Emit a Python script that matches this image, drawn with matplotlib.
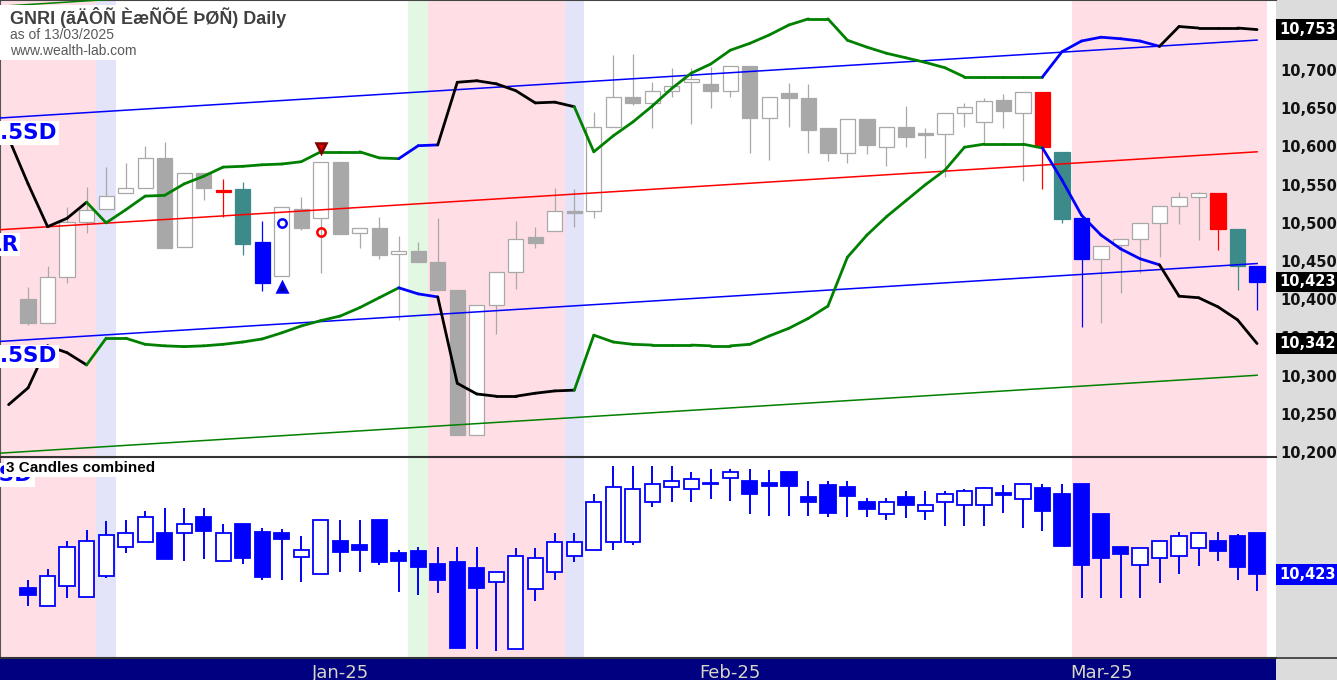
import numpy as np
import matplotlib.pyplot as plt
from matplotlib.collections import LineCollection
from matplotlib.lines import Line2D
from matplotlib.patches import Rectangle

# daily bars (upper panel), 64 sessions up to 13/03/2025
opens = [10400, 10369, 10429, 10501, 10518, 10539, 10546, 10585, 10468, 10565,
         10543, 10544, 10475, 10430, 10518, 10506, 10580, 10487, 10493, 10459,
         10463, 10449, 10412, 10222, 10392, 10436, 10481, 10489, 10515, 10515,
         10625, 10665, 10657, 10673, 10684, 10682, 10673, 10705, 10637, 10670,
         10663, 10624, 10591, 10636, 10599, 10625, 10617, 10616, 10644, 10632,
         10661, 10644, 10671, 10593, 10506, 10453, 10471, 10479, 10500, 10522,
         10534, 10539, 10492, 10444]
highs = [10416, 10444, 10521, 10547, 10573, 10578, 10601, 10606, 10565, 10565,
         10557, 10553, 10502, 10521, 10534, 10580, 10580, 10493, 10508, 10483,
         10475, 10506, 10412, 10392, 10436, 10502, 10495, 10546, 10544, 10645,
         10720, 10721, 10684, 10703, 10703, 10704, 10705, 10705, 10665, 10683,
         10682, 10624, 10636, 10636, 10625, 10653, 10624, 10644, 10657, 10663,
         10669, 10671, 10671, 10593, 10506, 10470, 10479, 10500, 10522, 10540,
         10540, 10539, 10492, 10444]
lows = [10366, 10369, 10421, 10487, 10518, 10539, 10546, 10467, 10468, 10530,
        10508, 10458, 10411, 10430, 10491, 10434, 10485, 10467, 10453, 10373,
        10449, 10412, 10222, 10222, 10354, 10413, 10467, 10489, 10495, 10506,
        10625, 10654, 10624, 10665, 10629, 10650, 10665, 10591, 10582, 10625,
        10591, 10581, 10578, 10590, 10574, 10599, 10585, 10560, 10625, 10605,
        10624, 10555, 10544, 10500, 10364, 10369, 10408, 10434, 10455, 10498,
        10478, 10464, 10412, 10386]
closes = [10369, 10429, 10501, 10517, 10535, 10546, 10585, 10467, 10565, 10546,
          10541, 10472, 10421, 10521, 10493, 10580, 10485, 10493, 10458, 10463,
          10449, 10412, 10222, 10392, 10436, 10479, 10474, 10515, 10513, 10625,
          10665, 10657, 10673, 10679, 10688, 10673, 10705, 10637, 10665, 10663,
          10622, 10591, 10636, 10602, 10625, 10612, 10615, 10644, 10652, 10660,
          10646, 10671, 10599, 10505, 10453, 10470, 10479, 10500, 10522, 10534,
          10539, 10492, 10444, 10423]
# n = plain bar, r / t / b = highlighted pattern bars
bar_kind = "n" * 10 + "rtb" + "n" * 39 + "rtb" + "n" * 6 + "rtb"

# 3 candles combined (lower panel)
comb_open = [10387, 10337, 10392, 10362, 10419, 10499, 10511, 10536, 10538, 10581,
             10460, 10560, 10540, 10538, 10470, 10424, 10515, 10504, 10572, 10483,
             10487, 10453, 10458, 10441, 10403, 10218, 10383, 10429, 10474, 10489,
             10511, 10511, 10622, 10664, 10656, 10670, 10688, 10679, 10673, 10705,
             10636, 10668, 10664, 10622, 10589, 10636, 10597, 10621, 10613, 10613,
             10647, 10630, 10661, 10644, 10671, 10589, 10499, 10449, 10469, 10474,
             10495, 10515, 10528, 10537]
comb_high = [10408, 10437, 10515, 10545, 10569, 10572, 10597, 10606, 10606, 10606,
             10560, 10560, 10551, 10548, 10528, 10572, 10572, 10572, 10572, 10490,
             10499, 10499, 10499, 10499, 10429, 10495, 10495, 10538, 10538, 10643,
             10721, 10721, 10721, 10721, 10705, 10712, 10712, 10712, 10709, 10705,
             10679, 10679, 10679, 10633, 10633, 10652, 10652, 10652, 10656, 10663,
             10668, 10671, 10671, 10671, 10671, 10589, 10499, 10495, 10515, 10540,
             10540, 10540, 10535, 10537]
comb_low = [10337, 10337, 10358, 10362, 10414, 10481, 10511, 10465, 10460, 10465,
            10460, 10453, 10408, 10408, 10403, 10424, 10430, 10430, 10449, 10376,
            10368, 10371, 10222, 10218, 10213, 10218, 10350, 10408, 10456, 10489,
            10490, 10504, 10609, 10622, 10622, 10630, 10625, 10588, 10583, 10583,
            10583, 10580, 10580, 10580, 10572, 10577, 10572, 10556, 10556, 10556,
            10592, 10551, 10542, 10502, 10358, 10358, 10358, 10359, 10399, 10423,
            10447, 10460, 10408, 10378]
comb_close = [10367, 10419, 10499, 10515, 10531, 10538, 10581, 10465, 10560, 10542,
              10536, 10469, 10415, 10519, 10490, 10572, 10485, 10490, 10456, 10460,
              10444, 10408, 10222, 10387, 10429, 10474, 10469, 10511, 10511, 10621,
              10664, 10656, 10671, 10679, 10685, 10673, 10705, 10643, 10666, 10666,
              10622, 10591, 10639, 10602, 10622, 10613, 10613, 10643, 10652, 10661,
              10641, 10671, 10597, 10502, 10449, 10469, 10478, 10495, 10515, 10528,
              10536, 10488, 10444, 10423]

# stop bands, one point per bar from index -1
stop_x = list(range(-1, 64))
stop_upper = [10611, 10551, 10495, 10506, 10527, 10500, 10517, 10535, 10536, 10551,
              10561, 10573, 10574, 10576, 10577, 10580, 10593, 10593, 10593, 10585,
              10584, 10601, 10602, 10684, 10686, 10682, 10673, 10657, 10658, 10652,
              10593, 10614, 10632, 10653, 10676, 10696, 10708, 10726, 10735, 10746,
              10759, 10767, 10767, 10739, 10730, 10722, 10716, 10710, 10703, 10691,
              10691, 10691, 10691, 10691, 10724, 10738, 10743, 10741, 10738, 10731,
              10757, 10755, 10755, 10755, 10753]
stop_lower = [10262, 10284, 10339, 10330, 10314, 10349, 10349, 10341, 10339, 10338,
              10339, 10341, 10344, 10348, 10356, 10365, 10372, 10378, 10389, 10402,
              10415, 10407, 10403, 10290, 10276, 10273, 10273, 10277, 10280, 10281,
              10353, 10344, 10341, 10340, 10340, 10340, 10339, 10339, 10341, 10352,
              10362, 10375, 10391, 10455, 10484, 10508, 10529, 10550, 10569, 10599,
              10603, 10603, 10603, 10598, 10556, 10510, 10484, 10466, 10453, 10445,
              10404, 10402, 10390, 10373, 10342]
# colour of each segment: k black, g green, b blue
stop_state = "kkkk" + "g" * 16 + "bb" + "k" * 7 + "g" * 24 + "b" * 6 + "k" * 5
# background per bar from index -1: p pink, l lavender, g green
shade = "ppppp" + "l" + "." * 15 + "g" + "ppppppp" + "l" + "." * 25 + "p" * 10

# linear regression channel
reg_x = [-1.44, 63]
reg_mid = [10491, 10593]
reg_sd = 97.5

# signals
sig_x = [13, 13, 15, 15]
sig_y = [10416, 10500, 10598, 10488]
sig_marker = ["^", "o", "v", "o"]
sig_face = ["#000080", "none", "#dd0000", "none"]
sig_edge = ["#0000ff", "#0000ff", "#800000", "#ff0000"]

month_pos = [16, 36, 55]
month_lab = ["Jan-25", "Feb-25", "Mar-25"]

W, H = 1337.0, 680.0
fig = plt.figure(figsize=(13.37, 6.8), dpi=100, facecolor="#dcdcdc")


def rect(x0, y0, x1, y1):
    return [x0 / W, 1 - y1 / H, (x1 - x0) / W, (y1 - y0) / H]


ax = fig.add_axes(rect(0, 0, 1276, 457))
ax2 = fig.add_axes(rect(0, 457, 1276, 658))
axd = fig.add_axes(rect(0, 658, 1276, 680))
ax.set_zorder(2)
ax2.set_zorder(1)
for a in (ax, ax2, axd):
    a.set_xlim(-1.44, 63.97)
    a.set_xticks([])
ax.set_ylim(10193.5, 10791.7)
ax2.set_ylim(10194, 10745)

# background shading, merged runs
shade_col = {"p": "#ffdfe5", "l": "#e3e3fa", "g": "#e3f8e3"}
start = 0
for i in range(1, len(shade) + 1):
    if i == len(shade) or shade[i] != shade[start]:
        if shade[start] in shade_col:
            for a in (ax, ax2):
                a.axvspan(stop_x[start] - 0.5, stop_x[i - 1] + 0.5,
                          color=shade_col[shade[start]], lw=0, zorder=0)
        start = i

# upper candles
o, h, l, c = map(np.array, (opens, highs, lows, closes))
xs = np.arange(len(o))
kind_col = {"r": "#ff0000", "t": "#3d8a8a", "b": "#0000ff"}
gray = "#a8a8a8"
face, edge = [], []
for i, k in enumerate(bar_kind):
    if k == "n":
        face.append("white" if c[i] >= o[i] else gray)
        edge.append(gray)
    else:
        face.append(kind_col[k])
        edge.append(kind_col[k])
ax.vlines(xs, l, h, colors=edge, linewidth=0.9, zorder=3)
ax.bar(xs, np.maximum(np.abs(c - o), 1), bottom=np.minimum(o, c), width=0.78,
       color=face, edgecolor=edge, linewidth=0.9, zorder=4)

# regression channel
mid = np.array(reg_mid, dtype=float)
ax.plot(reg_x, mid, color="#ff0000", lw=1.1, zorder=5)
ax.plot(reg_x, mid + 1.5 * reg_sd, color="#0000ff", lw=1.1, zorder=5)
ax.plot(reg_x, mid - 1.5 * reg_sd, color="#0000ff", lw=1.1, zorder=5)
ax.plot(reg_x, mid + 3 * reg_sd, color="#008000", lw=1.1, zorder=5)
ax.plot(reg_x, mid - 3 * reg_sd, color="#008000", lw=1.1, zorder=5)

# stop bands
state_col = {"k": "black", "g": "#008000", "b": "#0000ff"}
for band in (stop_upper, stop_lower):
    pts = np.column_stack([stop_x, band])
    segs = [pts[i:i + 2] for i in range(len(pts) - 1)]
    ax.add_collection(LineCollection(segs, colors=[state_col[s] for s in stop_state],
                                     linewidths=2.0, capstyle="round", zorder=6))

for sx, sy, m, fc, ec in zip(sig_x, sig_y, sig_marker, sig_face, sig_edge):
    ax.plot(sx, sy, marker=m, ms=7 if m != "o" else 6, mfc=fc, mec=ec, mew=1.8, zorder=7)

# channel labels
lab_style = dict(color="#0000ff", fontsize=15.5, fontweight="bold", ha="right", va="center",
                 textcoords="offset pixels", annotation_clip=False, zorder=8,
                 bbox=dict(boxstyle="square,pad=0.08", fc="white", ec="none"))
ax.annotate("+1.5SD", xy=(reg_x[0], mid[0] + 1.5 * reg_sd), xytext=(57, -15), **lab_style)
ax.annotate("LR", xy=(reg_x[0], mid[0]), xytext=(18, -15), **lab_style)
ax.annotate("-1.5SD", xy=(reg_x[0], mid[0] - 1.5 * reg_sd), xytext=(57, -15), **lab_style)
ax.annotate("-3SD", xy=(reg_x[0], mid[0] - 3 * reg_sd), xytext=(33, -22), **lab_style)

# price axis
ticks = np.arange(10200, 10701, 50)
ax.yaxis.tick_right()
ax.set_yticks(ticks)
ax.set_yticklabels([f"{v:,}" for v in ticks], fontweight="bold")
ax.tick_params(axis="y", length=0, pad=3, labelsize=10.5, labelcolor="#111111")
for v in (stop_upper[-1], closes[-1], stop_lower[-1]):
    ax.annotate(f"{v:,}", xy=(1, v), xycoords=("axes fraction", "data"), xytext=(3, 0),
                textcoords="offset pixels", ha="left", va="center", color="white",
                fontsize=10.5, fontweight="bold", annotation_clip=False, zorder=9,
                bbox=dict(boxstyle="square,pad=0.18", fc="black", ec="none"))

# lower panel candles
co, ch, cl, cc = map(np.array, (comb_open, comb_high, comb_low, comb_close))
ax2.vlines(xs, cl, ch, colors="#0000ff", linewidth=1.4, zorder=3)
ax2.bar(xs, np.maximum(np.abs(cc - co), 2), bottom=np.minimum(co, cc), width=0.78,
        color=["white" if cc[i] >= co[i] else "#0000ff" for i in xs],
        edgecolor="#0000ff", linewidth=1.3, zorder=4)
ax2.set_yticks([])
ax2.annotate(f"{comb_close[-1]:,}", xy=(1, comb_close[-1]), xycoords=("axes fraction", "data"),
             xytext=(3, 0), textcoords="offset pixels", ha="left", va="center", color="white",
             fontsize=10.5, fontweight="bold", annotation_clip=False, zorder=9,
             bbox=dict(boxstyle="square,pad=0.18", fc="#0000ff", ec="none"))

# date bar
axd.set_facecolor("#000080")
axd.set_yticks([])
for p, t in zip(month_pos, month_lab):
    axd.text(p, 1 - 6 / 22, t, transform=axd.get_xaxis_transform(), ha="center", va="top",
             color="#d8d6c8", fontsize=13)

for s in ("right",):
    ax.spines[s].set_visible(False)
    ax2.spines[s].set_visible(False)
ax.spines["top"].set_color("#444444")
ax.spines["top"].set_linewidth(1.5)
ax.spines["bottom"].set_color("#333333")
ax.spines["bottom"].set_linewidth(1.5)
ax.spines["left"].set_color("#555555")
ax2.spines["top"].set_visible(False)
ax2.spines["bottom"].set_color("#333333")
ax2.spines["bottom"].set_linewidth(1.5)
ax2.spines["left"].set_color("#555555")
for s in axd.spines.values():
    s.set_visible(False)
fig.add_artist(Line2D([0, 1], [1 - 658 / H] * 2, color="#333333", lw=1.2))

# header
fig.add_artist(Rectangle((0, 1 - 60 / H), 290 / W, 55 / H, transform=fig.transFigure,
                         fc="white", ec="none", zorder=10))
fig.text(10 / W, 1 - 18 / H, "GNRI (ãÄÔÑ ÈæÑÕÉ ÞØÑ) Daily", family="Liberation Sans",
         fontsize=13, fontweight="bold", color="#404040", va="center", zorder=11)
fig.text(10 / W, 1 - 35 / H, "as of 13/03/2025", family="Liberation Sans",
         fontsize=10, color="#5a5a5a", va="center", zorder=11)
fig.text(10 / W, 1 - 51 / H, "www.wealth-lab.com", family="Liberation Sans",
         fontsize=10, color="#5a5a5a", va="center", zorder=11)
fig.text(6 / W, 1 - 468 / H, "3 Candles combined", family="Liberation Sans",
         fontsize=11, fontweight="bold", color="black", va="center", zorder=11,
         bbox=dict(boxstyle="square,pad=0.12", fc="white", ec="none"))

fig.savefig("out.png", dpi=100, facecolor=fig.get_facecolor())
